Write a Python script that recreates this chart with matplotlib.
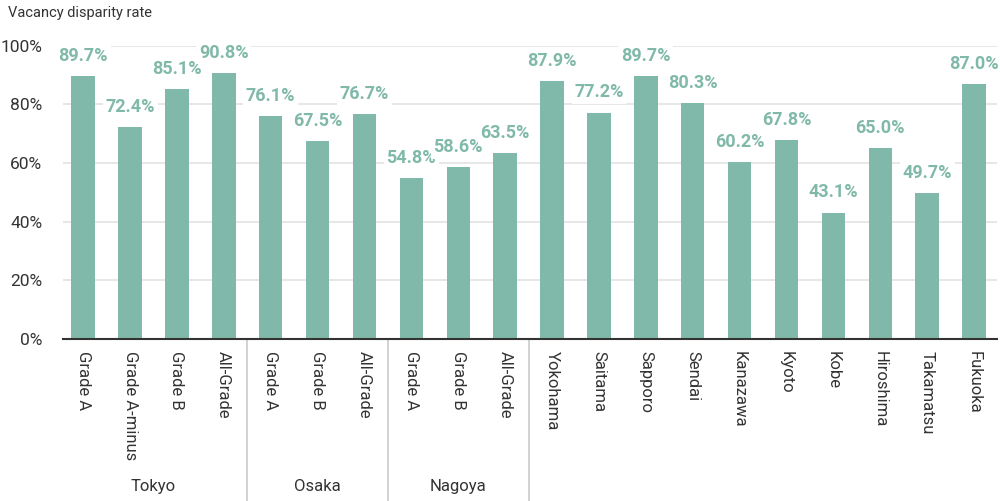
import matplotlib
matplotlib.use("Agg")
import matplotlib.pyplot as plt
import matplotlib.transforms as mtransforms

plt.rcParams['font.family'] = ['Roboto', 'DejaVu Sans']

categories = ["Grade A", "Grade A-minus", "Grade B", "All-Grade",
              "Grade A", "Grade B", "All-Grade",
              "Grade A", "Grade B", "All-Grade",
              "Yokohama", "Saitama", "Sapporo", "Sendai", "Kanazawa",
              "Kyoto", "Kobe", "Hiroshima", "Takamatsu", "Fukuoka"]
values = [89.7, 72.4, 85.1, 90.8,
          76.1, 67.5, 76.7,
          54.8, 58.6, 63.5,
          87.9, 77.2, 89.7, 80.3, 60.2, 67.8, 43.1, 65.0, 49.7, 87.0]
groups = ["Tokyo", "Osaka", "Nagoya"]
group_sizes = [4, 3, 3]
yticks = [0, 20, 40, 60, 80, 100]

bar_color = "#80b9a9"
text_color = "#333333"

fig = plt.figure(figsize=(10, 5.01), dpi=100)
ax = fig.add_axes([0.063, 0.3234, 0.934, 0.5854])

x = list(range(len(values)))
ax.bar(x, values, width=0.5, color=bar_color, zorder=2)

for xi, v in zip(x, values):
    ax.annotate("%.1f%%" % v, (xi, v), xytext=(0, 8), textcoords="offset points",
                ha="center", va="bottom", fontsize=13, fontweight="bold",
                color=bar_color, zorder=4, clip_on=False,
                bbox=dict(boxstyle="square,pad=0.15", fc="white", ec="none"))

ax.set_xlim(-0.43, 19.49)
ax.set_ylim(0, 100)
ax.set_yticks(yticks)
ax.set_yticklabels(["%d%%" % t for t in yticks], fontsize=12.5, color=text_color)
ax.grid(axis="y", color="#e3e3e3", linewidth=1.2, zorder=0)
ax.set_xticks(x)
ax.set_xticklabels(categories, rotation=270, fontsize=12, color=text_color,
                   ha="center", va="top")
ax.tick_params(axis="both", length=0)
ax.tick_params(axis="x", pad=9)
ax.tick_params(axis="y", pad=15)

for s in ["top", "right", "left"]:
    ax.spines[s].set_visible(False)
ax.spines["bottom"].set_color("#333333")
ax.spines["bottom"].set_linewidth(1.5)
ax.spines["bottom"].set_zorder(3)

trans = mtransforms.blended_transform_factory(ax.transData, ax.transAxes)
start = 0
for name, n in zip(groups, group_sizes):
    center = start + (n - 1) / 2
    ax.text(center, -0.502, name, transform=trans, ha="center", va="center",
            fontsize=12, color=text_color)
    end = start + n
    ax.plot([end - 0.5, end - 0.5], [0, -0.56], transform=trans,
            color="#c8cccc", linewidth=1.2, clip_on=False)
    start = end

fig.text(0.008, 0.975, "Vacancy disparity rate", ha="left", va="center",
         fontsize=10.5, color=text_color)

fig.savefig("out.png", dpi=100)
